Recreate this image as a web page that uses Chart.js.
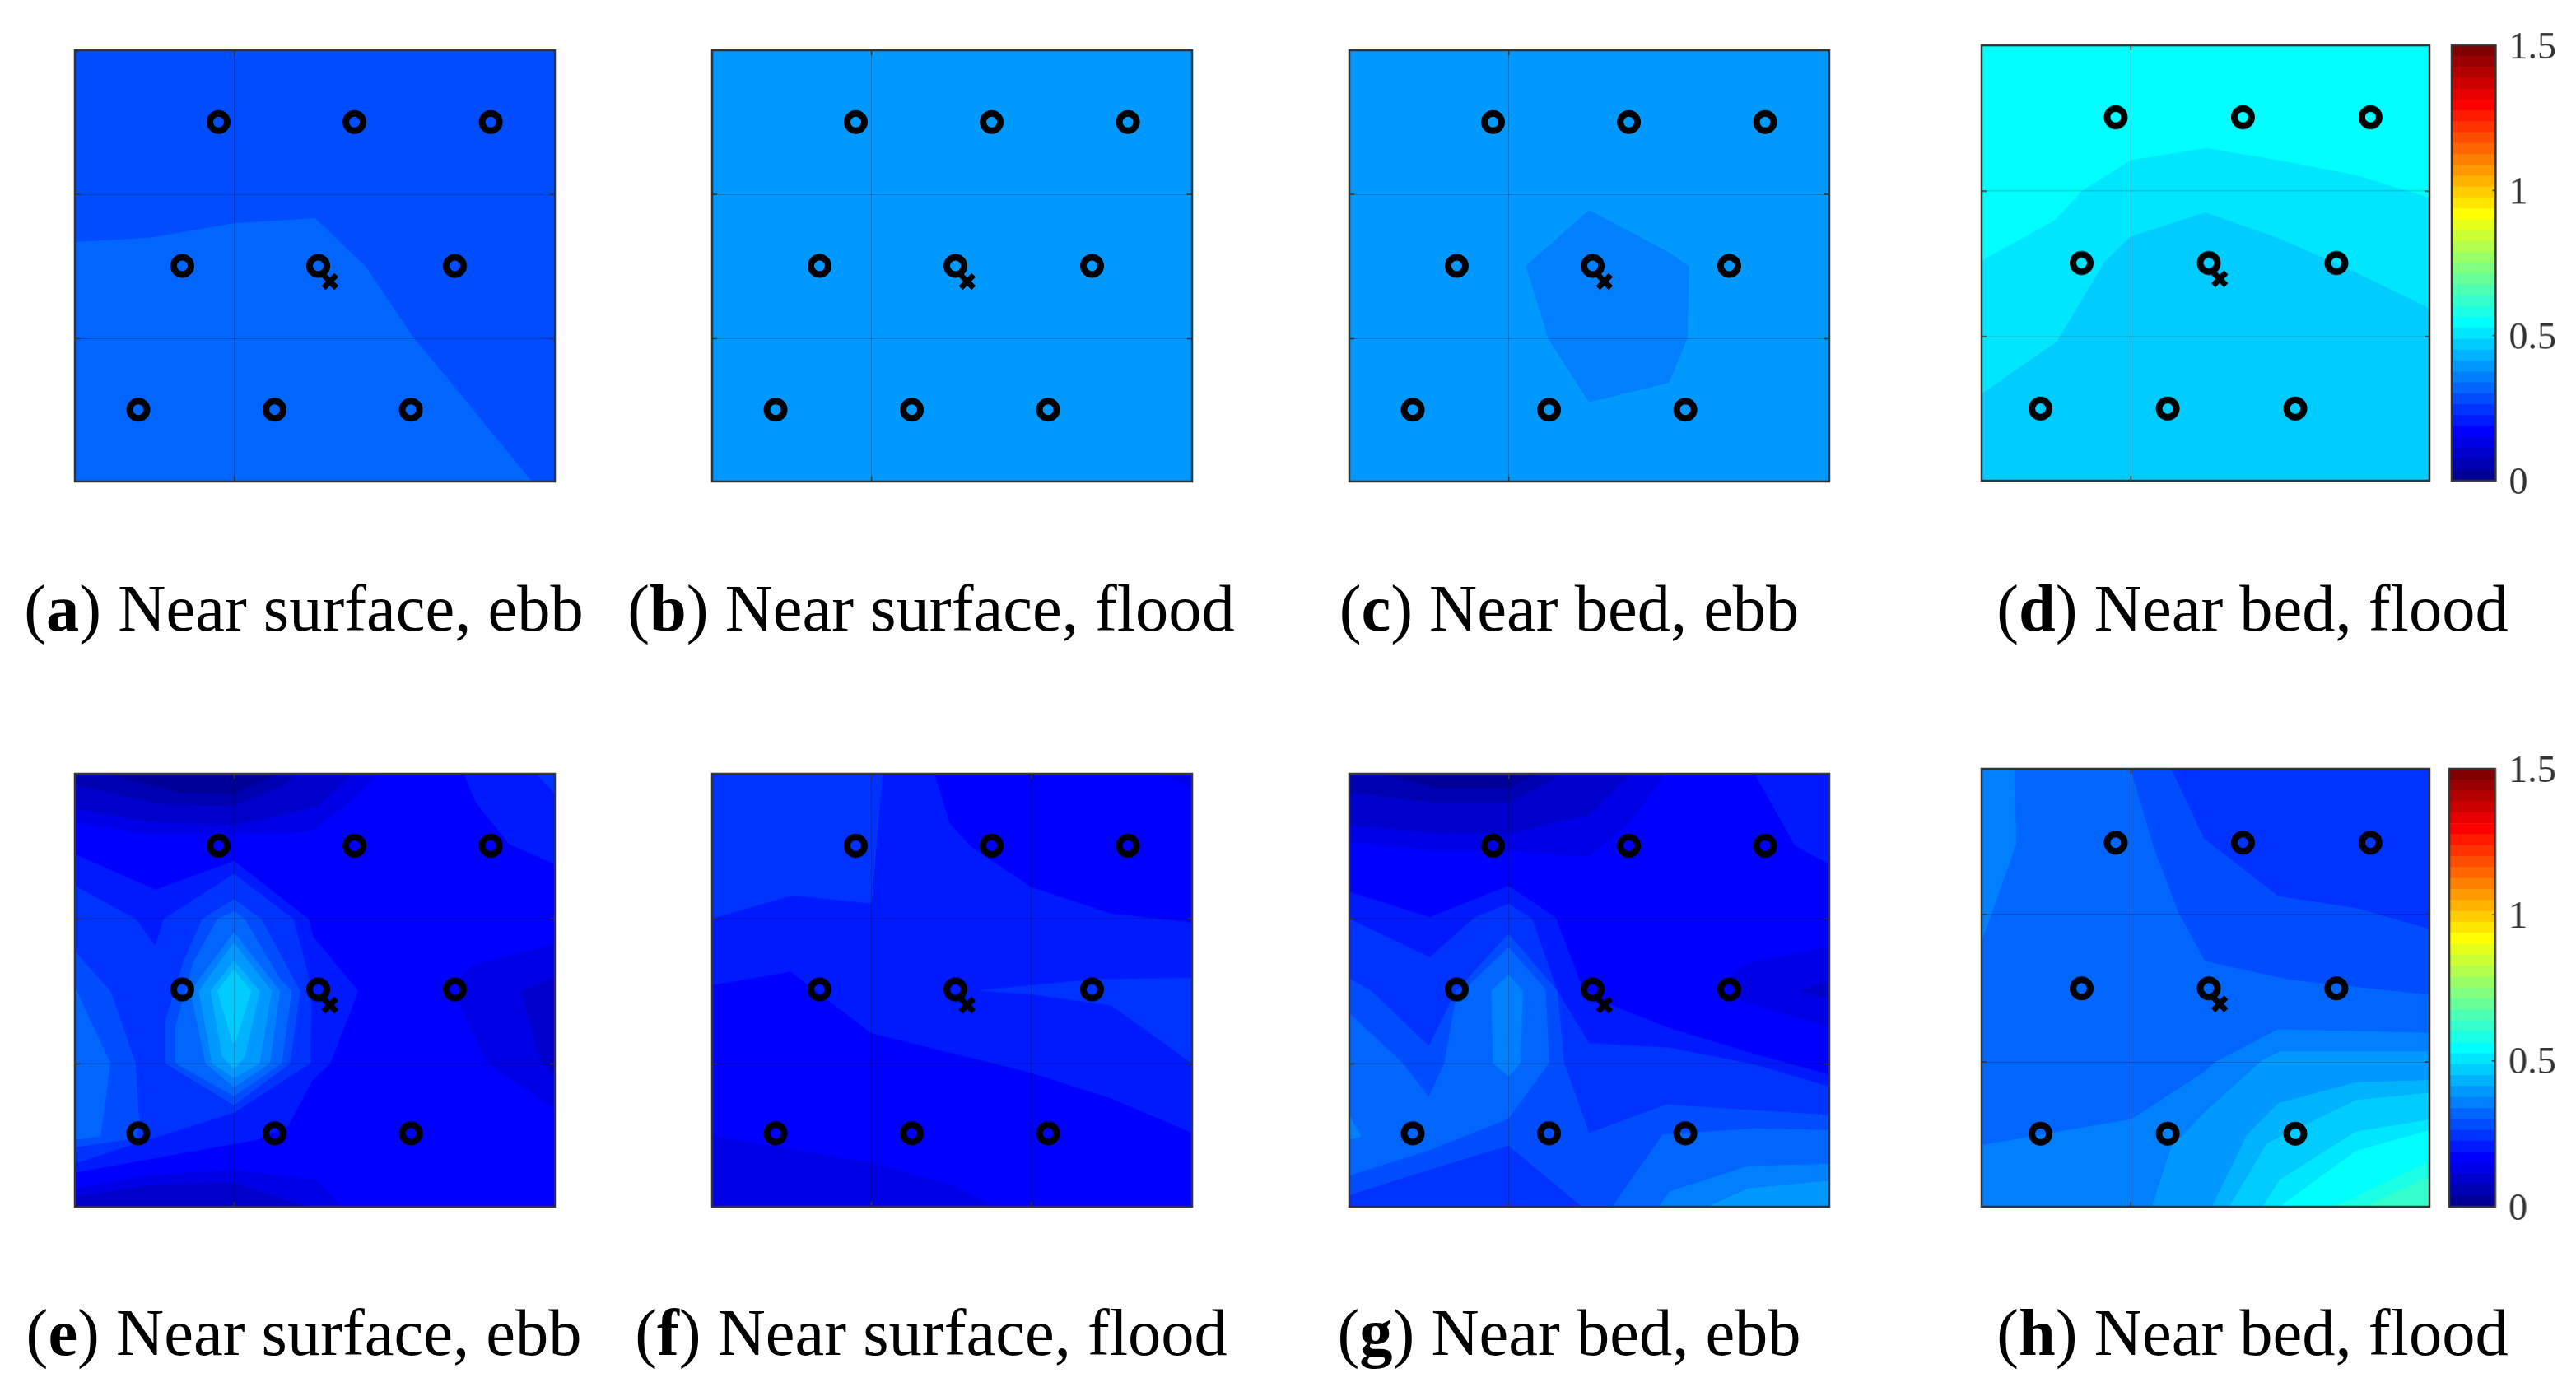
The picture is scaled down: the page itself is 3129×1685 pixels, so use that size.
<!DOCTYPE html>
<html>
<head>
<meta charset="utf-8">
<title>Velocity maps</title>
<script src="https://cdn.jsdelivr.net/npm/chart.js@4/dist/chart.umd.min.js"></script>
<style>
    body { margin: 0; background: #fff; width: 3129px; height: 1685px; overflow: hidden; position: relative; }
    canvas { position: absolute; }
    .caption { position: absolute; font: 80.5px/92px "Liberation Serif", serif; color: #000; white-space: nowrap; transform: translateX(-50%); }
</style>
</head>
<body>
<script>
    // Colour bar levels, bottom to top (each band is one contour step)
    const barTicks = [0, 0.5, 1, 1.5];
    const bandWidth = [0.0375];
    const bandColors = [
        "#000099", "#0000b3", "#0000cc", "#0000e6", "#0000ff", "#001aff", "#0033ff", "#004dff",
        "#0066ff", "#0080ff", "#0099ff", "#00b3ff", "#00ccff", "#00e6ff", "#00ffff", "#1affe6",
        "#33ffcc", "#4dffb3", "#66ff99", "#80ff80", "#99ff66", "#b3ff4d", "#ccff33", "#e6ff1a",
        "#ffff00", "#ffe600", "#ffcc00", "#ffb300", "#ff9900", "#ff8000", "#ff6600", "#ff4d00",
        "#ff3300", "#ff1a00", "#ff0000", "#e60000", "#cc0000", "#b30000", "#990000", "#800000"
    ];

    // Measuring stations
    const stationsWide = [
        [42.8, 24], [83.3, 24], [123.9, 24],
        [32, 72], [72.5, 72], [113.2, 72],
        [18.9, 120], [59.5, 120], [100.1, 120]
    ];
    const stationsNarrowD = [
        [34.6, 24], [67.4, 24], [100.3, 24],
        [25.8, 72.7], [58.6, 72.7], [91.5, 72.7],
        [15.2, 121.3], [48, 121.3], [80.9, 121.3]
    ];
    const stationsNarrowH = [
        [34.6, 24.7], [67.4, 24.7], [100.3, 24.7],
        [25.8, 73.4], [58.6, 73.4], [91.5, 73.4],
        [15.2, 122], [48, 122], [80.9, 122]
    ];
    const crossWide = [[76, 77.2]];
    const crossD = [[61.4, 78]];
    const crossH = [[61.4, 78.6]];

    // Contour regions per panel, painted in order. levelsX holds the band of each region
    const levelsA = [7, 8];
    const regionsA = [
        [[0, 0], [143, 0], [143, 144], [0, 144]],
        [[0, 64.2], [22.5, 62.7], [47.4, 57.9], [71.5, 56.2], [86.5, 72.2], [101, 96.3], [116.5, 117.2], [136, 144], [0, 144]]
    ];

    const levelsB = [10];
    const regionsB = [
        [[0, 0], [143, 0], [143, 144], [0, 144]]
    ];

    const levelsC = [10, 9];
    const regionsC = [
        [[0, 0], [143, 0], [143, 144], [0, 144]],
        [[71.4, 53.5], [95.4, 67.7], [101.1, 72.2], [100.6, 96.3], [95.2, 110.9], [71.4, 117.4], [59.4, 96.3], [52.7, 72]]
    ];

    const levelsD = [14, 13, 12];
    const regionsD = [
        [[0, 0], [115.5, 0], [115.5, 145.4], [0, 145.4]],
        [[0, 72], [19, 58.5], [26, 48.7], [38.5, 38.5], [58, 34.5], [76.5, 38.5], [96.5, 43.5], [115.5, 51], [115.5, 145.4], [0, 145.4]],
        [[0, 116.5], [19.5, 99], [32, 72], [38.5, 64], [57.7, 56], [76.5, 64.5], [96.5, 76], [115.5, 88], [115.5, 145.4], [0, 145.4]]
    ];

    const levelsE = [4, 3, 2, 1, 0, 5, 6, 5, 6, 7, 8, 7, 8, 9, 10, 11, 12, 3, 2, 3, 2];
    const regionsE = [
        [[0, 0], [143, 0], [143, 144.5], [0, 144.5]],
        [[0, 16], [22.5, 20], [47.4, 20], [70.5, 19], [80.5, 10.5], [90, 0], [0, 0]],
        [[0, 11.5], [22.5, 16], [47.4, 17], [62.5, 13.5], [72.5, 10.5], [82.5, 0], [0, 0]],
        [[0, 3.5], [25.5, 10], [47.4, 10.5], [62.5, 3.5], [66, 0], [0, 0]],
        [[10.5, 0], [30.5, 6], [47.4, 6.5], [60.5, 0]],
        [[116, 0], [119.5, 9.5], [129.5, 23.5], [143, 30], [143, 0]],
        [[137.5, 0], [143, 6.5], [143, 0]],
        [[0, 27], [24, 38.8], [47.4, 29.2], [69.5, 48.5], [71, 54.5], [84.3, 72.5], [76, 96.6], [70.5, 102.5], [63.5, 117.5], [54.5, 122], [0, 133]],
        [[0, 37.5], [18, 48.5], [24, 57.5], [26.5, 48.5], [47.4, 33.5], [65, 48.5], [70.5, 71.5], [70, 96.6], [47.4, 113], [19, 123], [0, 130]],
        [[0, 59.5], [10.5, 72.5], [18, 96.6], [19, 116], [18.5, 121.5], [0, 124.5]],
        [[0, 71.5], [10.5, 96.6], [7.5, 121], [0, 122]],
        [[27, 96.6], [27, 82.5], [32.5, 62.5], [38, 48.5], [47.4, 42], [55.5, 48.5], [67, 72.5], [64, 96.6], [47.4, 110.5]],
        [[30, 96.6], [30, 84.5], [35.5, 62.5], [42.5, 48.5], [47.4, 46], [50.5, 48.5], [61, 68.5], [64.5, 72.5], [61.5, 96.6], [47.4, 107.5]],
        [[34.5, 72.5], [47.4, 53], [61, 72.5], [58, 96.6], [47.4, 104.5], [39, 96.6]],
        [[37, 72.5], [47.4, 56.5], [58.5, 72.5], [55, 96.6], [47.4, 101.5], [41, 96.6]],
        [[40.5, 72.5], [47.4, 62.5], [55, 72.5], [50.5, 94.5], [47.4, 98.5], [44, 94.5]],
        [[42.5, 72.5], [47.4, 65.5], [52.5, 72.5], [47.8, 89.5], [47, 89.5]],
        [[143, 57], [118.5, 64], [114, 69.5], [115, 77.5], [123, 96.6], [143, 111.5]],
        [[143, 68], [133, 72.5], [139, 96.6], [143, 100.5]],
        [[0, 138.5], [22.5, 134], [47.4, 132.3], [71.5, 135.5], [79.5, 144.5], [0, 144.5]],
        [[0, 141], [22.5, 137.5], [47.4, 136.5], [68.5, 144.5], [0, 144.5]]
    ];

    const levelsF = [5, 6, 4, 3, 4, 3, 6];
    const regionsF = [
        [[0, 0], [143, 0], [143, 144.5], [0, 144.5]],
        [[0, 0], [50.7, 0], [47.4, 43.2], [23.9, 40.5], [0, 48.2]],
        [[66.4, 0], [70.9, 16.5], [76.9, 24], [95.1, 37.7], [118.9, 46.5], [143, 49.5], [143, 0]],
        [[133.9, 0], [143, 4.5], [143, 0]],
        [[0, 70.7], [23.4, 66.2], [47.4, 86.7], [95.1, 100], [118.9, 108.5], [143, 120], [143, 144.5], [0, 144.5]],
        [[0, 121], [47.4, 130], [71.9, 137.5], [83.9, 144.5], [0, 144.5]],
        [[79.9, 72.3], [95.1, 70.7], [113.9, 68.7], [143, 68.2], [143, 96.6], [118.9, 77.2], [95.1, 73.5]]
    ];

    const levelsG = [4, 3, 2, 1, 0, 5, 5, 3, 2, 6, 7, 8, 8, 9, 9, 9, 10];
    const regionsG = [
        [[0, 0], [143, 0], [143, 144.5], [0, 144.5]],
        [[0, 22.5], [25.4, 25.5], [47.4, 25.5], [71.4, 27.5], [83.4, 16.5], [93.9, 0], [0, 0]],
        [[0, 17], [25.4, 19.5], [47.4, 20], [71.4, 13.5], [83.9, 0], [0, 0]],
        [[0, 6], [25.4, 9.5], [47.4, 9.5], [63.4, 0], [0, 0]],
        [[10.4, 0], [25.4, 4.5], [47.4, 4.5], [55.4, 0]],
        [[120.9, 0], [132.9, 24], [143, 30], [143, 0]],
        [[0, 39.5], [23.9, 48], [47.4, 37.5], [61.4, 48], [69.4, 71.5], [78.4, 77.5], [95.4, 85], [120.4, 93.5], [143, 100.5], [143, 144.5], [0, 144.5]],
        [[143, 58], [118.4, 63.5], [112.4, 69], [116.4, 75.5], [143, 84.5]],
        [[143, 69], [134.4, 72.5], [143, 75]],
        [[0, 48.5], [23.9, 61.3], [37.4, 48], [47.4, 43.5], [54.4, 48.5], [61.9, 72.5], [71.4, 90], [95.4, 91.5], [120.4, 97], [143, 104.5], [143, 144.5], [0, 144.5]],
        [[0, 68.5], [6.4, 72.5], [23.7, 91], [31.9, 72.5], [47.4, 53.5], [61.9, 72.5], [63.9, 96.6], [71.4, 120], [94.4, 110.5], [143, 114], [143, 144.5], [69.4, 144.5], [47.4, 124], [23.9, 132], [0, 140.5]],
        [[0, 80], [15.9, 96.6], [23.7, 108], [28.4, 96.6], [31.9, 74.5], [47.4, 58], [58.4, 72], [59.4, 96.6], [47.4, 115], [23.9, 125.5], [0, 134]],
        [[78.4, 144.5], [93.4, 120.5], [120.4, 118.5], [143, 119], [143, 144.5]],
        [[42.4, 72.5], [47.4, 67], [51.6, 72.5], [50.9, 96.6], [47.4, 101], [42.9, 96.6]],
        [[92.4, 144.5], [95.4, 139.5], [118.9, 131], [143, 130.3], [143, 144.5]],
        [[0, 114], [3.4, 121], [0, 122]],
        [[106.9, 144.5], [118.9, 138.5], [143, 136], [143, 144.5]]
    ];

    const levelsH = [8, 9, 7, 6, 9, 10, 11, 12, 13, 14, 15, 16];
    const regionsH = [
        [[0, 0], [115.5, 0], [115.5, 146.4], [0, 146.4]],
        [[0, 0], [8.5, 0], [8.8, 25.4], [0, 57.4]],
        [[38.5, 0], [44.5, 26.4], [51, 48.4], [57.7, 64.2], [79.5, 70.4], [115.5, 75.4], [115.5, 0]],
        [[49, 0], [57.5, 23.4], [76.5, 42.4], [96.5, 46.4], [115.5, 53.4], [115.5, 0]],
        [[0, 125.9], [35.5, 117.9], [38.5, 117.4], [57.5, 101.4], [60.5, 97.9], [76.5, 87.2], [115.5, 88.4], [115.5, 146.4], [0, 146.4]],
        [[44, 146.4], [49, 126.4], [58, 114.4], [72.5, 97.4], [77, 94.6], [115.5, 94.6], [115.5, 146.4]],
        [[59.5, 146.4], [68.5, 122.4], [76.5, 111.9], [96.5, 104.9], [115.5, 104.2], [115.5, 146.4]],
        [[64, 146.4], [73.5, 125.4], [96.5, 110.9], [115.5, 108.4], [115.5, 146.4]],
        [[72.5, 146.4], [77, 137.4], [96.5, 121.4], [115.5, 117.4], [115.5, 146.4]],
        [[77, 146.4], [96.5, 127.9], [115.5, 120.9], [115.5, 146.4]],
        [[91, 146.4], [115.5, 131.4], [115.5, 146.4]],
        [[99, 146.4], [115.5, 136.4], [115.5, 146.4]]
    ];

    // Axis ticks and ranges
    const xTicksWide = [47.5];
    const xTicksF = [47.5, 95.1];
    const xTicksNarrow = [38.5];
    const yTicksTop = [48.1, 96.3];
    const yTicksBottom = [48.4, 96.8];
    const yTicksD = [48.7, 97.3];
    const yTicksH = [48.7, 98];

    // Captions
    const captionLetters = ["a", "b", "c", "d", "e", "f", "g", "h"];
    const captionTexts = [
        "Near surface, ebb", "Near surface, flood", "Near bed, ebb", "Near bed, flood",
        "Near surface, ebb", "Near surface, flood", "Near bed, ebb", "Near bed, flood"
    ];

    // Where things sit on the page
    const captionCenters = [369, 1131, 1906, 2736, 369, 1131, 1906, 2736];
    const captionTops = [693, 693, 693, 693, 1573, 1573, 1573, 1573];
    const MARGIN = 6;

    // Fills a dataset's points as a closed polygon, through the pixels the scales gave them
    const regionFill = {
        id: 'regionFill',
        beforeDatasetDraw(chart, args) {
            const dataset = chart.data.datasets[args.index];
            if (!dataset.isRegion) return;
            const ctx = chart.ctx;
            const points = args.meta.data;
            ctx.save();
            ctx.beginPath();
            points.forEach((p, i) => i === 0 ? ctx.moveTo(p.x, p.y) : ctx.lineTo(p.x, p.y));
            ctx.closePath();
            ctx.fillStyle = dataset.regionColor;
            ctx.strokeStyle = dataset.regionColor;
            ctx.lineWidth = 1;
            ctx.fill();
            ctx.stroke();
            ctx.restore();
        }
    };

    // Box round the axes plus short inward tick marks
    const axesFrame = {
        id: 'axesFrame',
        afterDraw(chart) {
            const ctx = chart.ctx;
            const area = chart.chartArea;
            ctx.save();
            ctx.strokeStyle = '#333';
            ctx.lineWidth = 1.5;
            const xScale = chart.scales.x;
            const yScale = chart.scales.y;
            ctx.beginPath();
            if (chart.config.type === 'scatter') {
                xScale.ticks.forEach(t => {
                    const px = xScale.getPixelForValue(t.value);
                    ctx.moveTo(px, area.top); ctx.lineTo(px, area.top + 6);
                    ctx.moveTo(px, area.bottom); ctx.lineTo(px, area.bottom - 6);
                });
                yScale.ticks.forEach(t => {
                    const py = yScale.getPixelForValue(t.value);
                    ctx.moveTo(area.left, py); ctx.lineTo(area.left + 6, py);
                    ctx.moveTo(area.right, py); ctx.lineTo(area.right - 6, py);
                });
            } else {
                yScale.ticks.forEach(t => {
                    const py = yScale.getPixelForValue(t.value);
                    ctx.moveTo(area.right, py); ctx.lineTo(area.right - 4, py);
                });
            }
            ctx.stroke();
            ctx.lineWidth = 2.5;
            ctx.strokeRect(area.left, area.top, area.right - area.left, area.bottom - area.top);
            ctx.restore();
        }
    };

    function addCanvas(left, top, width, height) {
        const canvas = document.createElement('canvas');
        canvas.width = width;
        canvas.height = height;
        canvas.style.left = left + 'px';
        canvas.style.top = top + 'px';
        canvas.style.width = width + 'px';
        canvas.style.height = height + 'px';
        document.body.appendChild(canvas);
        return canvas;
    }

    function toPoints(pairs) {
        return pairs.map(p => ({ x: p[0], y: p[1] }));
    }

    function drawPanel(box, levels, regions, stations, cross, xMax, yMax, xTicks, yTicks) {
        const canvas = addCanvas(box[0] - MARGIN, box[1] - MARGIN, box[2] - box[0] + 2 * MARGIN, box[3] - box[1] + 2 * MARGIN);
        const datasets = [
            {
                label: 'Stations',
                data: toPoints(stations),
                pointStyle: 'circle',
                pointRadius: 10.5,
                pointBorderWidth: 8,
                pointBorderColor: '#000',
                pointBackgroundColor: 'rgba(0,0,0,0)',
                order: 0
            },
            {
                label: 'Reference point',
                data: toPoints(cross),
                pointStyle: 'crossRot',
                pointRadius: 11,
                pointBorderWidth: 7,
                pointBorderColor: '#000',
                order: 0
            }
        ];
        regions.forEach((region, i) => {
            datasets.push({
                label: 'Level ' + levels[i],
                data: toPoints(region),
                isRegion: true,
                regionColor: bandColors[levels[i]],
                pointRadius: 0,
                order: regions.length - i
            });
        });

        const axisOptions = (max, ticks, reverse) => ({
            type: 'linear',
            min: 0,
            max: max,
            reverse: reverse,
            afterBuildTicks: axis => { axis.ticks = ticks.map(v => ({ value: v })); },
            ticks: { display: false },
            border: { display: false },
            grid: { color: 'rgba(0,0,0,0.22)', lineWidth: 1, drawTicks: false, z: 1 }
        });

        new Chart(canvas, {
            type: 'scatter',
            data: { datasets: datasets },
            options: {
                responsive: false,
                animation: false,
                layout: { padding: MARGIN, autoPadding: false },
                plugins: { legend: { display: false }, tooltip: { enabled: false } },
                scales: {
                    x: axisOptions(xMax, xTicks, false),
                    y: axisOptions(yMax, yTicks, true)
                }
            },
            plugins: [regionFill, axesFrame]
        });
    }

    function drawColorBar(left, right, top, bottom) {
        const canvasLeft = left - 8;
        const canvasTop = top - 56;
        const canvas = addCanvas(canvasLeft, canvasTop, 3129 - canvasLeft, bottom - top + 112);
        new Chart(canvas, {
            type: 'bar',
            data: {
                labels: ['Speed'],
                datasets: bandColors.map((color, i) => ({
                    label: 'Band ' + i,
                    data: bandWidth,
                    backgroundColor: color,
                    barPercentage: 1,
                    categoryPercentage: 1
                }))
            },
            options: {
                responsive: false,
                animation: false,
                layout: { padding: { left: 8, top: 56, bottom: 56, right: 0 }, autoPadding: false },
                plugins: { legend: { display: false }, tooltip: { enabled: false } },
                scales: {
                    x: { stacked: true, display: false },
                    y: {
                        stacked: true,
                        position: 'right',
                        min: 0,
                        max: 1.5,
                        afterBuildTicks: axis => { axis.ticks = barTicks.map(v => ({ value: v })); },
                        afterFit: axis => {
                            axis.width = 3129 - right;
                            axis.paddingTop = 0;
                            axis.paddingBottom = 0;
                        },
                        border: { display: false },
                        grid: { display: false, drawTicks: false },
                        ticks: {
                            padding: 16,
                            labelOffset: 3.5,
                            color: '#333',
                            font: { family: '"Liberation Serif", serif', size: 46 },
                            callback: v => String(v)
                        }
                    }
                }
            },
            plugins: [axesFrame]
        });
    }

    // Plot boxes: left, top, right, bottom
    drawPanel([90.6, 61, 674, 585], levelsA, regionsA, stationsWide, crossWide, 143, 144, xTicksWide, yTicksTop);
    drawPanel([865, 61, 1448, 585], levelsB, regionsB, stationsWide, crossWide, 143, 144, xTicksWide, yTicksTop);
    drawPanel([1638.8, 61, 2221.8, 585], levelsC, regionsC, stationsWide, crossWide, 143, 144, xTicksWide, yTicksTop);
    drawPanel([2406.5, 55.4, 2950.8, 584], levelsD, regionsD, stationsNarrowD, crossD, 115.5, 145.4, xTicksNarrow, yTicksD);
    drawPanel([90.6, 940, 674, 1465.5], levelsE, regionsE, stationsWide, crossWide, 143, 144.5, xTicksWide, yTicksBottom);
    drawPanel([865, 940, 1448, 1465.5], levelsF, regionsF, stationsWide, crossWide, 143, 144.5, xTicksF, yTicksBottom);
    drawPanel([1638.8, 940, 2221.8, 1465.5], levelsG, regionsG, stationsWide, crossWide, 143, 144.5, xTicksWide, yTicksBottom);
    drawPanel([2406.5, 934, 2950.8, 1466], levelsH, regionsH, stationsNarrowH, crossH, 115.5, 146.4, xTicksNarrow, yTicksH);

    drawColorBar(2977.7, 3031.4, 55.4, 584);
    drawColorBar(2975.3, 3031.4, 934, 1466);

    captionLetters.forEach((letter, i) => {
        const div = document.createElement('div');
        div.className = 'caption';
        div.style.left = captionCenters[i] + 'px';
        div.style.top = captionTops[i] + 'px';
        const bold = document.createElement('b');
        bold.textContent = letter;
        div.append('(', bold, ') ' + captionTexts[i]);
        document.body.appendChild(div);
    });
</script>
</body>
</html>
